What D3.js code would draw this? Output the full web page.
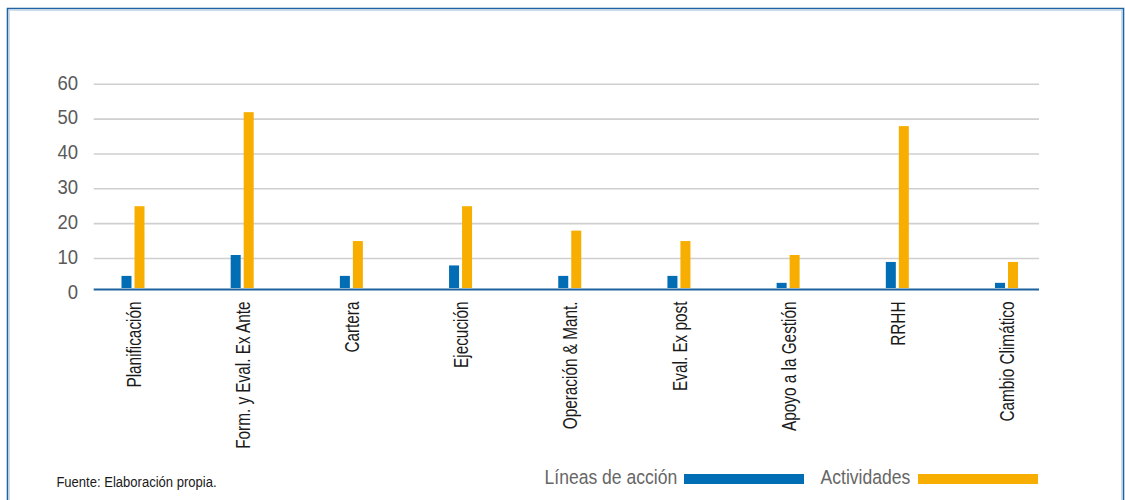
<!DOCTYPE html>
<html>
<head>
<meta charset="utf-8">
<script src="https://cdn.jsdelivr.net/npm/d3@7"></script>
<style>
  html, body { margin: 0; padding: 0; background: #fff; }
  svg { display: block; }
</style>
</head>
<body>
<svg id="chart" width="1125" height="500"></svg>
<script>
// Categories and series values
const categories = [
  "Planificación", "Form. y Eval. Ex Ante", "Cartera", "Ejecución",
  "Operación & Mant.", "Eval. Ex post", "Apoyo a la Gestión", "RRHH", "Cambio Climático"
];
const lineasDeAccion = [5, 11, 5, 8, 5, 5, 3, 9, 3];
const actividades = [25, 52, 15, 25, 18, 15, 11, 48, 9];
const seriesNames = ["Líneas de acción", "Actividades"];
const seriesColors = ["#006db4", "#f7ae00"];
const yTicks = [0, 10, 20, 30, 40, 50, 60];
const sourceNote = "Fuente: Elaboración propia.";

const rows = categories.map((c, i) => ({
  category: c,
  values: [lineasDeAccion[i], actividades[i]]
}));

const svg = d3.select("#chart");

// Outer frame (open at the bottom)
svg.append("path")
  .attr("d", "M7.5,505 V8.5 H1123.5 V505")
  .attr("fill", "none")
  .attr("stroke", "#1f64a0")
  .attr("stroke-width", 1.6);
svg.append("path")
  .attr("d", "M9.3,505 V10.3 H1121.7 V505")
  .attr("fill", "none")
  .attr("stroke", "#b9cfe2")
  .attr("stroke-width", 0.9);

// Scales
const y = d3.scaleLinear().domain([0, 60]).range([293.3, 84.3]);
const x0 = d3.scaleBand().domain(categories).range([78.4, 1061.1]).padding(0);
const x1 = d3.scaleBand().domain(seriesNames)
  .range([x0.bandwidth() / 2 - 11.5, x0.bandwidth() / 2 + 11.5])
  .paddingInner(3 / 13).paddingOuter(0);

const gridLeft = 93.7, gridRight = 1039;
const baseY = 288; // top edge of the category axis line

// Horizontal gridlines (zero is replaced by the axis line)
svg.append("g")
  .selectAll("line")
  .data(yTicks.filter(t => t > 0))
  .join("line")
  .attr("x1", gridLeft).attr("x2", gridRight)
  .attr("y1", d => y(d)).attr("y2", d => y(d))
  .attr("stroke", "#cfcfcf")
  .attr("stroke-width", 1.6);

// Y axis labels
const yAxis = d3.axisLeft(y).tickValues(yTicks).tickSize(0).tickPadding(0);
const gy = svg.append("g")
  .attr("transform", "translate(78,-1.4)")
  .call(yAxis);
gy.select(".domain").remove();
gy.selectAll("text")
  .attr("transform", "scale(0.95,1)")
  .attr("font-family", "'Liberation Sans', Arial, sans-serif")
  .attr("font-size", 19.5)
  .attr("fill", "#5a5a5a");

// Bars
const groups = svg.append("g")
  .selectAll("g")
  .data(rows)
  .join("g")
  .attr("transform", d => `translate(${x0(d.category)},0)`);

groups.selectAll("rect")
  .data(d => d.values.map((v, i) => ({ series: seriesNames[i], value: v, color: seriesColors[i] })))
  .join("rect")
  .attr("x", d => x1(d.series))
  .attr("width", x1.bandwidth())
  .attr("y", d => y(d.value))
  .attr("height", d => Math.max(0, baseY - y(d.value)))
  .attr("fill", d => d.color);

// Category axis line
svg.append("line")
  .attr("x1", gridLeft).attr("x2", gridRight)
  .attr("y1", baseY + 1.5).attr("y2", baseY + 1.5)
  .attr("stroke", "#1d62a0")
  .attr("stroke-width", 2);

// Rotated, condensed category labels
const xAxis = d3.axisBottom(x0).tickSize(0).tickPadding(0);
const gx = svg.append("g")
  .attr("transform", "translate(0,301.5)")
  .call(xAxis);
gx.select(".domain").remove();
gx.selectAll("text")
  .attr("y", 0)
  .attr("dy", "0.36em")
  .attr("transform", "rotate(-90) scale(0.73,1)")
  .attr("text-anchor", "end")
  .attr("font-family", "'Liberation Sans', Arial, sans-serif")
  .attr("font-size", 21)
  .attr("fill", "#1a1a1a");

// Source note
svg.append("text")
  .attr("transform", "translate(56.4,486.7) scale(0.9,1)")
  .attr("font-family", "'Liberation Sans', Arial, sans-serif")
  .attr("font-size", 14.5)
  .attr("fill", "#1a1a1a")
  .text(sourceNote);

// Legend
const legendItems = [
  { name: seriesNames[0], color: seriesColors[0], tx: 544.5, rx: 684 },
  { name: seriesNames[1], color: seriesColors[1], tx: 820.6, rx: 918 }
];
const legend = svg.append("g");
legend.selectAll("text")
  .data(legendItems)
  .join("text")
  .attr("transform", d => `translate(${d.tx},484) scale(0.9,1)`)
  .attr("font-family", "'Liberation Sans', Arial, sans-serif")
  .attr("font-size", 19.5)
  .attr("fill", "#666")
  .text(d => d.name);
legend.selectAll("rect")
  .data(legendItems)
  .join("rect")
  .attr("x", d => d.rx)
  .attr("y", 474)
  .attr("width", 120)
  .attr("height", 10)
  .attr("fill", d => d.color);
</script>
</body>
</html>
